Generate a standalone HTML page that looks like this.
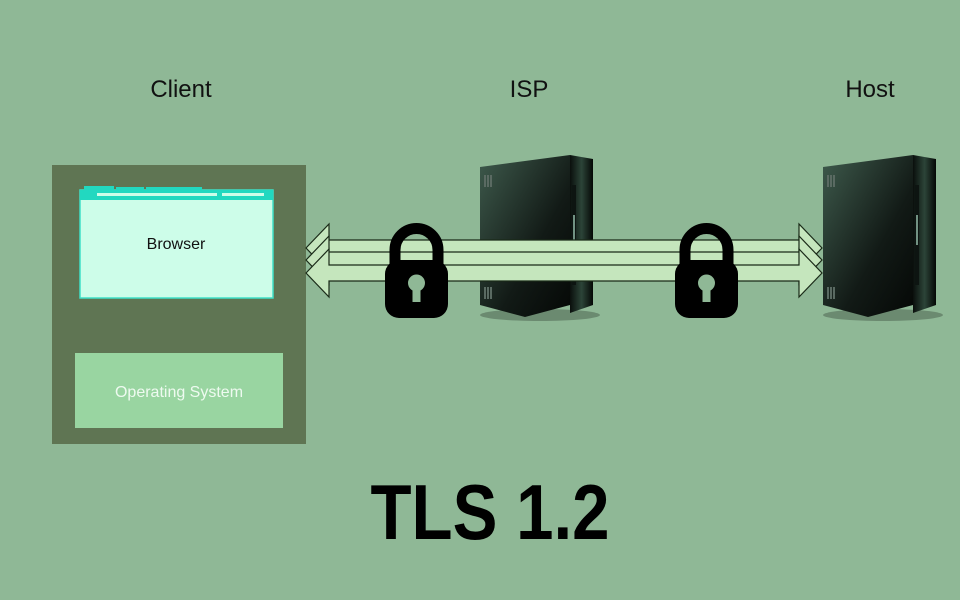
<!DOCTYPE html>
<html><head><meta charset="utf-8"><style>
html,body{margin:0;padding:0;background:#8fb896;}
svg{display:block}
</style></head><body>
<svg width="960" height="600" viewBox="0 0 960 600" xmlns="http://www.w3.org/2000/svg">
<defs>
<linearGradient id="sv" x1="0" y1="0" x2="1" y2="1">
<stop offset="0" stop-color="#3e5a4c"/><stop offset="0.6" stop-color="#121a16"/><stop offset="1" stop-color="#050806"/>
</linearGradient>
<linearGradient id="sd" x1="0" y1="0" x2="1" y2="0">
<stop offset="0" stop-color="#0a0f0c"/><stop offset="0.5" stop-color="#2c4438"/><stop offset="1" stop-color="#050806"/>
</linearGradient>
<g id="server">
<ellipse cx="60" cy="160" rx="60" ry="6" fill="#000" opacity="0.25"/>
<polygon points="0,12 90,0 90,150 45,162 0,150" fill="url(#sv)"/>
<polygon points="90,0 113,4 113,150 90,158" fill="url(#sd)"/>
<rect x="92" y="30" width="4" height="100" fill="#0d1411"/>
<rect x="93" y="60" width="2" height="30" fill="#9ec8b4" opacity="0.7"/>
<g fill="#5a6a62"><rect x="4" y="20" width="2" height="12"/><rect x="7" y="20" width="2" height="12"/><rect x="10" y="20" width="2" height="12"/>
<rect x="4" y="132" width="2" height="12"/><rect x="7" y="132" width="2" height="12"/><rect x="10" y="132" width="2" height="12"/></g>
</g>
<g id="lock">
<path d="M10,36 V22 A21.5,21.5 0 0 1 53,22 V36" fill="none" stroke="#000" stroke-width="11"/>
<rect x="0" y="32" width="63" height="58" rx="14" fill="#000"/>
<circle cx="31.5" cy="55" r="8.5" fill="#8fb896"/>
<rect x="27.5" y="57" width="8" height="17" fill="#8fb896"/>
</g>
<g id="arrow">
<polygon points="306,0 329,-24 329,-8 799,-8 799,-24 822,0 799,24 799,8 329,8 329,24" fill="#c5e6bd" stroke="#1a2a18" stroke-width="1.2"/>
</g>
</defs>
<rect width="960" height="600" fill="#8fb896"/>
<g font-family="Liberation Sans, sans-serif" font-size="24" fill="#111" text-anchor="middle">
<text x="181" y="97">Client</text><text x="529" y="97">ISP</text><text x="870" y="97">Host</text>
</g>
<rect x="52" y="165" width="254" height="279" fill="#5f7553"/>
<rect x="80" y="190" width="193" height="108" fill="#cdfde9" stroke="#3ee0c8" stroke-width="1.5"/>
<rect x="80" y="190" width="193" height="10" fill="#22d8c0"/>
<rect x="84" y="186" width="30" height="5" fill="#22d8c0"/><rect x="116" y="187" width="28" height="4" fill="#22d8c0"/><rect x="146" y="187" width="56" height="4" fill="#22d8c0"/>
<rect x="97" y="193" width="120" height="3" fill="#cdfde9"/><rect x="222" y="193" width="42" height="3" fill="#cdfde9"/>
<text x="176" y="249" font-family="Liberation Sans, sans-serif" font-size="16" text-anchor="middle" fill="#111">Browser</text>
<rect x="75" y="353" width="208" height="75" fill="#99d5a1"/>
<text x="179" y="397" font-family="Liberation Sans, sans-serif" font-size="16" text-anchor="middle" fill="#eefaf0">Operating System</text>
<use href="#server" x="480" y="155"/>
<use href="#server" x="823" y="155"/>
<use href="#arrow" y="248"/>
<use href="#arrow" y="260"/>
<use href="#arrow" y="273"/>
<use href="#lock" x="385" y="228"/>
<use href="#lock" x="675" y="228"/>
<text x="490" y="539" font-family="Liberation Sans, sans-serif" font-weight="bold" font-size="78" text-anchor="middle" fill="#000" textLength="239" lengthAdjust="spacingAndGlyphs">TLS 1.2</text>
</svg>
</body></html>
